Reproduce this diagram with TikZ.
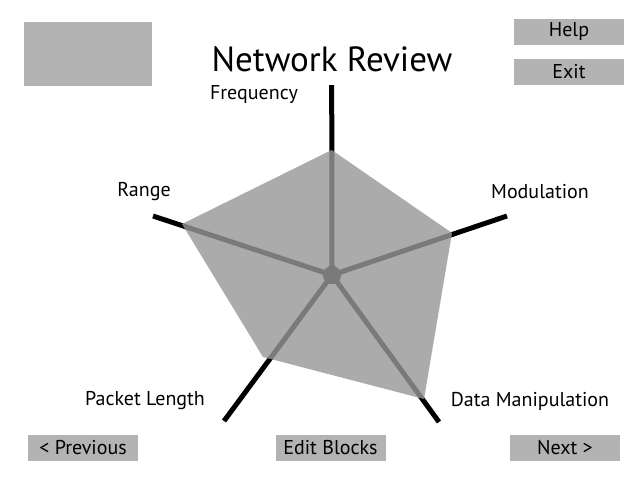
\documentclass[tikz,border=0pt]{standalone}
\usepackage{fontspec}
\setmainfont{PT Sans}
\usetikzlibrary{shapes.geometric}
\definecolor{btn}{HTML}{B3B3B3}
\definecolor{polyc}{HTML}{979797}
\tikzset{
  btnbox/.style={fill=btn, inner sep=0pt, minimum width=110pt, minimum height=26pt, font=\fontsize{20}{20}\selectfont},
  lbl/.style={inner sep=0pt, font=\fontsize{20}{20}\selectfont},
  axis/.style={line width=5pt, black},
}
\begin{document}
\begin{tikzpicture}[x=1pt,y=-1pt]
\useasboundingbox (0,0) rectangle (640,480);
% coordinates
\coordinate (c) at (332,275);
\coordinate (eF) at (331.7,85);
\coordinate (eM) at (507,216);
\coordinate (eR) at (153,216);
\coordinate (eP) at (224,421);
\coordinate (eD) at (439,422);
\coordinate (vF) at (331.7,150);
\coordinate (vM) at (452,233);
\coordinate (vD) at (424,399);
\coordinate (vP) at (263,357);
\coordinate (vR) at (182,224);
% axes
\draw[axis] (c) -- (eF);
\draw[axis] (c) -- (eM);
\draw[axis] (c) -- (eR);
\draw[axis] (c) -- (eP);
\draw[axis] (c) -- (eD);
\node[regular polygon, regular polygon sides=5, fill=black, minimum size=22pt, inner sep=0pt] (hub) at (c) {};
% data polygon
\fill[polyc, opacity=0.81] (vF) -- (vM) -- (vD) -- (vP) -- (vR) -- cycle;
% top-left placeholder
\node[fill=btn, inner sep=0pt, minimum width=128pt, minimum height=64pt] (logo) at (88,54) {};
% title
\node[inner sep=0pt, font=\fontsize{35}{35}\selectfont] (title) at (332,59) {Network Review};
% labels
\node[lbl] (lF) at (254,95) {Frequency};
\node[lbl] (lR) at (144,192) {Range};
\node[lbl] (lM) at (540,192) {Modulation};
\node[lbl] (lP) at (145,401) {Packet Length};
\node[lbl] (lD) at (530,401) {Data Manipulation};
% buttons
\node[btnbox] (help) at (569,31.5) {Help};
\node[btnbox] (exit) at (569,72) {Exit};
\node[btnbox] (prev) at (83,448) {< Previous};
\node[btnbox] (edit) at (330.5,448) {Edit Blocks};
\node[btnbox] (next) at (565,448) {Next >};
\end{tikzpicture}
\end{document}
